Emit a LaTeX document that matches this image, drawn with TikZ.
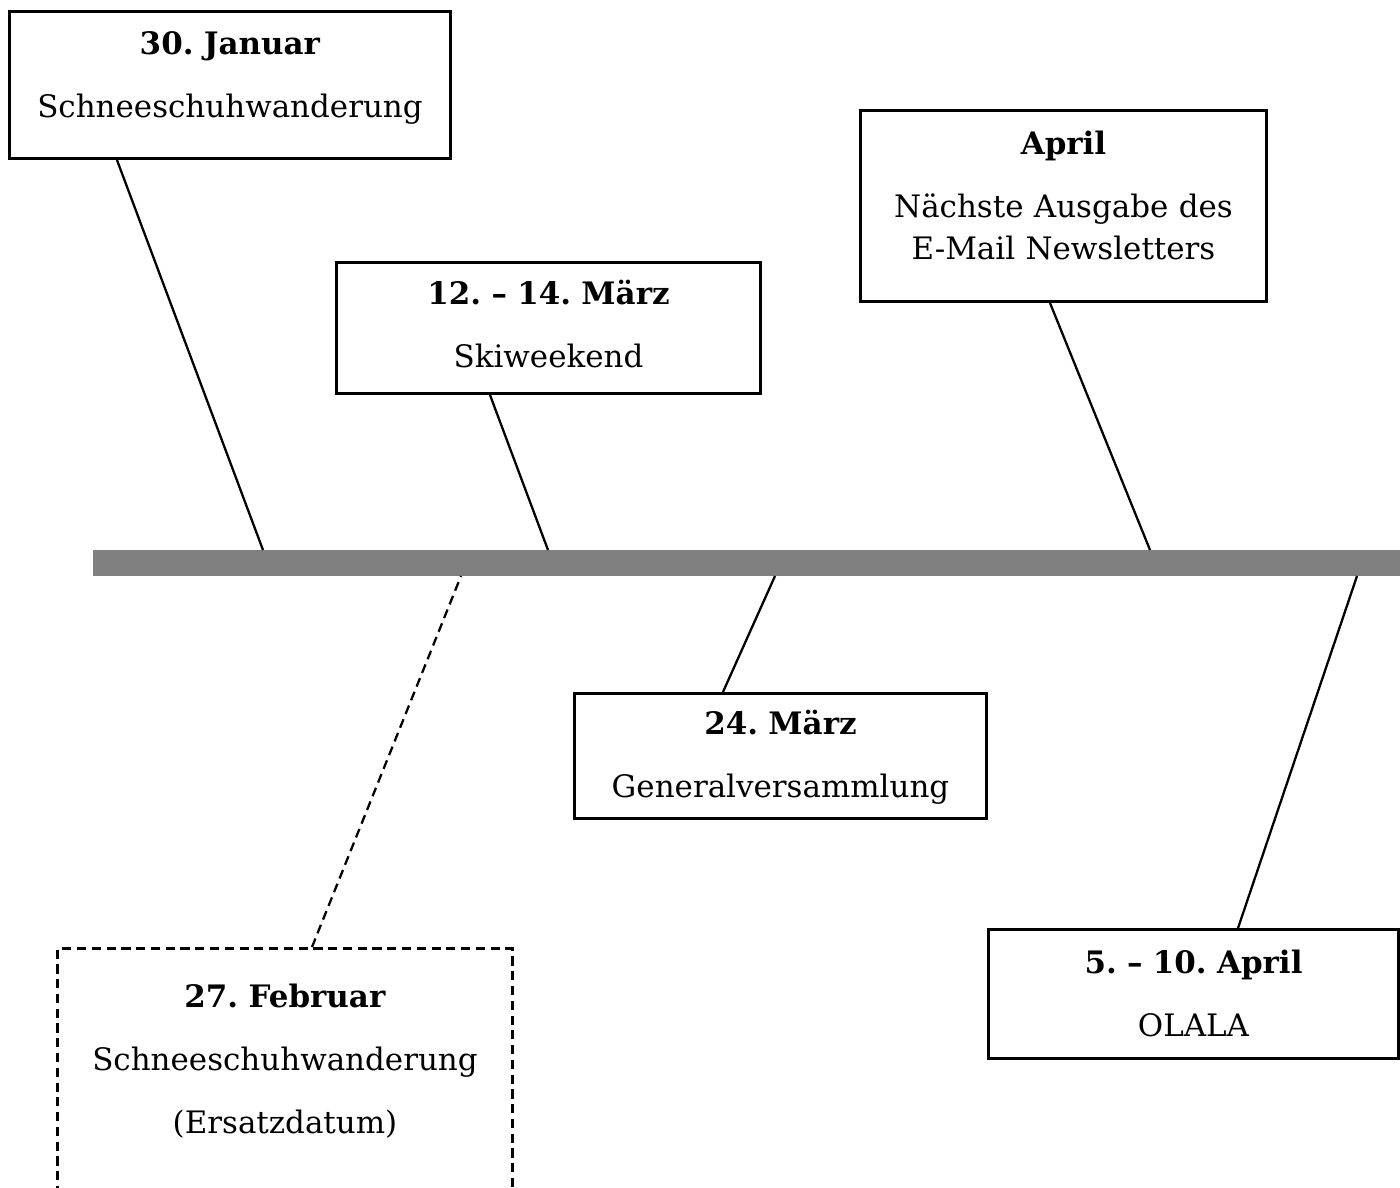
\documentclass[tikz,border=0pt]{standalone}
\usepackage{fontspec}
\setmainfont{DejaVu Serif}
\usepackage{tikz}
\frenchspacing

\begin{document}
\begin{tikzpicture}[
 x=0.01cm,y=-0.01cm,
 box/.style={draw,line width=0.8pt,align=center,inner sep=0pt,anchor=north,
  text height=4.3mm,text depth=#1-4.3mm,font=\fontsize{8.8}{11.9}\selectfont},
 pin/.style={line width=0.65pt},
 alt/.style={dash pattern=on 2.6pt off 1.6pt},
 bar/.style={fill=gray,minimum width=13.27cm,minimum height=0.26cm,inner sep=0pt}]
\useasboundingbox (0,0) rectangle (1400,1187);
\node[bar] (axis) at (756.5,563) {};
\node[box=1.47cm,text width=4.40cm] (jan) at (230,10) {\textbf{30. Januar}\\[6pt]Schneeschuhwanderung};
\node[box=1.32cm,text width=4.23cm,text height=4.2mm] (ski) at (548.5,261) {\textbf{12. – 14. März}\\[6pt]Skiweekend};
\node[box=1.90cm,text width=4.05cm,text height=4.4mm] (news) at (1063.5,109) {\textbf{April}\\[6pt]Nächste Ausgabe des\\E-Mail Newsletters};
\node[box=1.27cm,text width=4.11cm,text height=4.1mm] (gv) at (780.5,692) {\textbf{24. März}\\[6pt]Generalversammlung};
\node[box=3cm,alt,text width=4.54cm,text height=5.9mm] (feb) at (285,947) {\textbf{27. Februar}\\[6pt]Schneeschuhwanderung\\[6pt](Ersatzdatum)};
\node[box=1.28cm,text width=4.09cm,text height=4.4mm] (olala) at (1193.5,928) {\textbf{5. – 10. April}\\[6pt]OLALA};
\coordinate (jan-pin) at (263,550);
\coordinate (ski-pin) at (548,550);
\coordinate (news-pin) at (1150,550);
\coordinate (gv-pin) at (775,576);
\coordinate (feb-pin) at (461,576);
\coordinate (olala-pin) at (1357,576);
\draw[pin] ([xshift=-1.13cm]jan.south)--(jan-pin);
\draw[pin] ([xshift=-0.585cm]ski.south)--(ski-pin);
\draw[pin] ([xshift=-0.135cm]news.south)--(news-pin);
\draw[pin] ([xshift=-0.575cm]gv.north)--(gv-pin);
\draw[pin,alt] ([xshift=0.27cm]feb.north)--(feb-pin);
\draw[pin] ([xshift=0.445cm]olala.north)--(olala-pin);
\end{tikzpicture}
\end{document}
